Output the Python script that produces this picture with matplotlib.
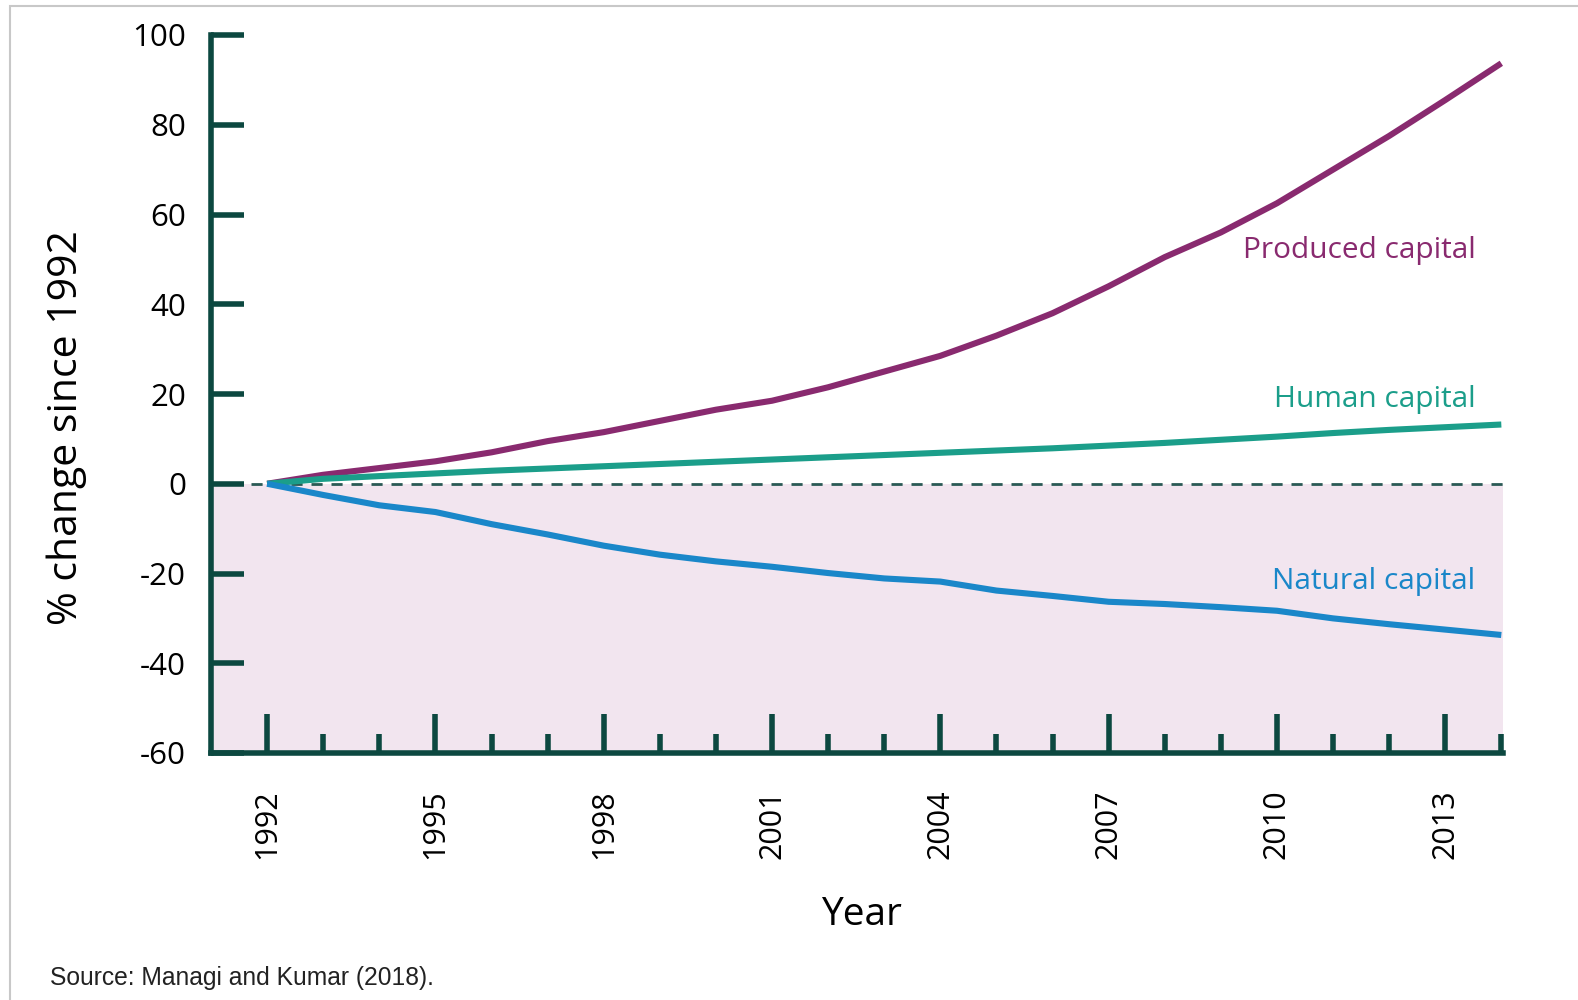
import matplotlib
matplotlib.use("Agg")
import matplotlib.pyplot as plt
from matplotlib.ticker import FixedLocator
import matplotlib.patches as mpatches

years = list(range(1992, 2015))
produced = [0, 2, 3.5, 5, 7, 9.5, 11.5, 14, 16.5, 18.5, 21.5, 25, 28.5, 33, 38, 44, 50.5, 56, 62.5, 70, 77.5, 85.5, 93.7]
human = [0, 1.1, 1.7, 2.3, 2.9, 3.4, 3.9, 4.4, 4.9, 5.4, 5.9, 6.4, 6.9, 7.4, 7.9, 8.5, 9.1, 9.8, 10.5, 11.3, 12.0, 12.6, 13.2]
natural = [0, -2.5, -4.8, -6.3, -9, -11.3, -13.8, -15.8, -17.3, -18.5, -19.9, -21.1, -21.8, -23.8, -25, -26.3, -26.8, -27.5, -28.3, -30, -31.3, -32.5, -33.7]
series_names = ["Produced capital", "Human capital", "Natural capital"]
label_y = [50.3, 17.1, -23.4]
yticks = [-60, -40, -20, 0, 20, 40, 60, 80, 100]
xticks_major = [1992, 1995, 1998, 2001, 2004, 2007, 2010, 2013]

c_prod = "#892a6f"
c_hum = "#1b9e8a"
c_nat = "#1a87c9"
c_axis = "#0c4840"

W, H = 1578, 1000
fig = plt.figure(figsize=(W / 100, H / 100), dpi=100)
ax = fig.add_axes([211 / W, 247 / H, 1292 / W, 718 / H])
ax.set_xlim(1991, 2014.03)
ax.set_ylim(-60, 100)

ax.axhspan(-60, 0, color="#f2e5ef", zorder=0, lw=0)
ax.axhline(0, color="#2a5a55", lw=2, ls=(0, (4, 3.2)), zorder=1)

for vals, col in zip([produced, human, natural], [c_prod, c_hum, c_nat]):
    ax.plot(years, vals, color=col, lw=4.4, zorder=3, solid_capstyle="butt")

tf = ["Open Sans", "DejaVu Sans"]
for name, col, ly in zip(series_names, [c_prod, c_hum, c_nat], label_y):
    ax.text(2013.54, ly, name, color=col, fontsize=21.5, ha="right", va="baseline", family=tf)

for s in ["top", "right"]:
    ax.spines[s].set_visible(False)
for s in ["left", "bottom"]:
    ax.spines[s].set_color(c_axis)
    ax.spines[s].set_linewidth(4)

ax.set_yticks(yticks)
ax.set_yticklabels([str(v) for v in yticks], family=tf, fontsize=22.5)
ax.tick_params(axis="y", direction="in", length=24, width=4, color=c_axis, pad=18)

ax.xaxis.set_major_locator(FixedLocator(xticks_major))
ax.xaxis.set_minor_locator(FixedLocator([y for y in range(1993, 2015) if y not in xticks_major]))
ax.set_xticklabels([str(v) for v in xticks_major], rotation=90, family=tf, fontsize=22)
ax.tick_params(axis="x", which="major", direction="in", length=28, width=4, color=c_axis, pad=26)
ax.tick_params(axis="x", which="minor", direction="in", length=14, width=4, color=c_axis)

fig.text(67 / W, 1 - 428 / H, "% change since 1992", family=tf, fontsize=29.5,
         rotation=90, ha="center", va="center")
fig.text(861 / W, 1 - 925 / H, "Year", family=tf, fontsize=28, ha="center", va="baseline")

fig.text(50 / W, 1 - 985 / H, "Source: Managi and Kumar (2018).", family=["Liberation Sans", "DejaVu Sans"],
         fontsize=17.7, va="baseline", ha="left", color="#222222")

border = mpatches.Rectangle((10 / W, -0.01), 1.1, 1 - 6 / H + 0.01, transform=fig.transFigure,
                            fill=False, edgecolor="#c8c8c8", lw=1.5)
fig.patches.append(border)

fig.savefig("out.png", dpi=100)
